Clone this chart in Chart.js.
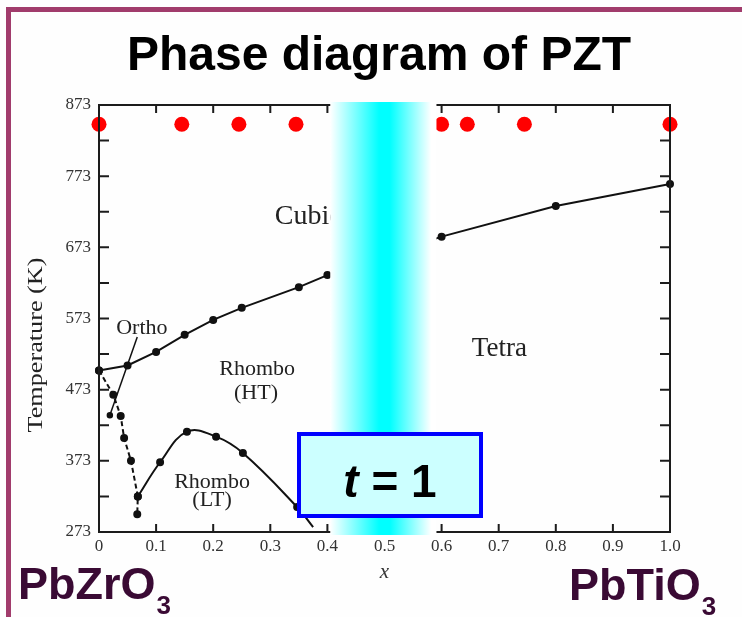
<!DOCTYPE html>
<html>
<head>
<meta charset="utf-8">
<title>Phase diagram of PZT</title>
<script src="https://cdn.jsdelivr.net/npm/chart.js@4/dist/chart.umd.min.js"></script>
<style>
  html, body { margin: 0; padding: 0; background: #fefefe; }
  canvas { display: block; }
</style>
</head>
<body>
<canvas id="pzt" width="742" height="617"></canvas>
<script>
const titleText = "Phase diagram of PZT";
const yTitle = "Temperature (K)";

// composition x (PbTiO3 fraction) and temperature T (K)
const upperX = [0, 0.05, 0.1, 0.15, 0.2, 0.25, 0.35, 0.4, 0.6, 0.8, 1.0];
const upperT = [500, 507, 526, 550, 571, 588, 617, 634, 688, 731, 762];

const orthoX = [0, 0.025, 0.038, 0.044, 0.056, 0.068, 0.067];
const orthoT = [500, 466, 436, 405, 373, 323, 298];

const lowX = [0.068, 0.107, 0.154, 0.205, 0.252, 0.347, 0.375];
const lowT = [323, 371, 414, 407, 384, 308, 280];

const leaderX = [0.067, 0.019];
const leaderT = [547, 437];

const redX = [0, 0.145, 0.245, 0.345, 0.6, 0.645, 0.745, 1.0];
const redT = [846, 846, 846, 846, 846, 846, 846, 846];

const xTicks = [0, 0.1, 0.2, 0.3, 0.4, 0.5, 0.6, 0.7, 0.8, 0.9, 1.0];
const xTickLabels = ["0", "0.1", "0.2", "0.3", "0.4", "0.5", "0.6", "0.7", "0.8", "0.9", "1.0"];
const yTicks = [273, 373, 473, 573, 673, 773, 873];
const yMinorTicks = [323, 373, 423, 473, 523, 573, 623, 673, 723, 773, 823];

const band = [0.405, 0.591];

const phaseLabels = [
  { text: "Cubic", x: 0.308, t: 706, size: 28, align: "left" },
  { text: "Tetra", x: 0.653, t: 521, size: 27, align: "left" },
  { text: "Ortho", x: 0.075, t: 551, size: 22, align: "center" },
  { text: "Rhombo", x: 0.277, t: 494, size: 22, align: "center" },
  { text: "(HT)", x: 0.275, t: 460, size: 22, align: "center" },
  { text: "Rhombo", x: 0.198, t: 335, size: 22, align: "center" },
  { text: "(LT)", x: 0.198, t: 310, size: 22, align: "center" }
];

const toPoints = (xs, ts) => xs.map((x, i) => ({ x: x, y: ts[i] }));

function drawFormula(ctx, main, sub, x, y) {
  ctx.font = 'bold 45px "Liberation Sans"';
  ctx.textAlign = "left";
  ctx.fillText(main, x, y);
  const w = ctx.measureText(main).width;
  ctx.font = 'bold 26px "Liberation Sans"';
  ctx.fillText(sub, x + w + 1, y + 15);
}

const slide = {
  id: "slide",
  beforeDraw(chart) {
    const ctx = chart.ctx;
    ctx.save();
    ctx.fillStyle = "#fefefe";
    ctx.fillRect(0, 0, chart.width, chart.height);
    ctx.fillStyle = "#a13c6c";
    ctx.fillRect(6, 7, chart.width - 6, 5);
    ctx.fillRect(6, 7, 5, chart.height - 7);

    ctx.fillStyle = "#000";
    ctx.font = 'bold 48px "Liberation Sans"';
    ctx.textAlign = "center";
    ctx.textBaseline = "alphabetic";
    ctx.fillText(titleText, 379, 70);

    ctx.fillStyle = "#3a0a34";
    drawFormula(ctx, "PbZrO", "3", 18, 599);
    drawFormula(ctx, "PbTiO", "3", 569, 600);

    // y axis title, stretched like the scanned figure
    ctx.fillStyle = "#222";
    ctx.font = '22px "Liberation Serif"';
    ctx.textAlign = "center";
    ctx.textBaseline = "middle";
    const tw = ctx.measureText(yTitle).width;
    ctx.translate(36, 345);
    ctx.rotate(-Math.PI / 2);
    ctx.scale(175 / tw, 1);
    ctx.fillText(yTitle, 0, 0);
    ctx.restore();
  },
  afterDatasetsDraw(chart) {
    const ctx = chart.ctx;
    const { left, right, top, bottom } = chart.chartArea;
    const xs = chart.scales.x, ys = chart.scales.y;
    ctx.save();

    // plot frame with inward ticks
    ctx.strokeStyle = "#1c1c1c";
    ctx.lineWidth = 2;
    ctx.strokeRect(left, top, right - left, bottom - top);
    ctx.beginPath();
    xTicks.forEach(v => {
      const px = xs.getPixelForValue(v);
      ctx.moveTo(px, bottom); ctx.lineTo(px, bottom - 8);
      ctx.moveTo(px, top); ctx.lineTo(px, top + 8);
    });
    yMinorTicks.forEach(v => {
      const py = ys.getPixelForValue(v);
      ctx.moveTo(left, py); ctx.lineTo(left + 10, py);
      ctx.moveTo(right, py); ctx.lineTo(right - 10, py);
    });
    ctx.stroke();

    // phase labels
    ctx.fillStyle = "#222";
    ctx.textBaseline = "alphabetic";
    phaseLabels.forEach(l => {
      ctx.font = l.size + 'px "Liberation Serif"';
      ctx.textAlign = l.align;
      ctx.fillText(l.text, xs.getPixelForValue(l.x), ys.getPixelForValue(l.t));
    });

    // cyan band at x = 0.5
    const bx0 = xs.getPixelForValue(band[0]);
    const bx1 = xs.getPixelForValue(band[1]);
    const grad = ctx.createLinearGradient(bx0, 0, bx1, 0);
    grad.addColorStop(0, "#ffffff");
    grad.addColorStop(0.46, "#00ffff");
    grad.addColorStop(0.56, "#00ffff");
    grad.addColorStop(0.95, "#ffffff");
    grad.addColorStop(1, "#ffffff");
    ctx.fillStyle = grad;
    ctx.fillRect(bx0, top - 3, bx1 - bx0, bottom - top + 6);

    // t = 1 box
    ctx.fillStyle = "#ccffff";
    ctx.fillRect(297, 432, 186, 86);
    ctx.strokeStyle = "#0000ff";
    ctx.lineWidth = 4;
    ctx.strokeRect(299, 434, 182, 82);

    ctx.fillStyle = "#000";
    ctx.textAlign = "left";
    ctx.font = 'italic bold 46px "Liberation Sans"';
    const wt = ctx.measureText("t").width;
    ctx.font = 'bold 46px "Liberation Sans"';
    const wr = ctx.measureText(" = 1").width;
    const sx = 390 - (wt + wr) / 2;
    ctx.font = 'italic bold 46px "Liberation Sans"';
    ctx.fillText("t", sx, 497);
    ctx.font = 'bold 46px "Liberation Sans"';
    ctx.fillText(" = 1", sx + wt, 497);
    ctx.restore();
  }
};

const lineStyle = {
  showLine: true,
  borderColor: "#111",
  backgroundColor: "#111",
  borderWidth: 2,
  pointRadius: 3,
  pointHoverRadius: 3,
  clip: false
};

new Chart(document.getElementById("pzt"), {
  type: "scatter",
  data: {
    datasets: [
      Object.assign({}, lineStyle, { label: "upper", data: toPoints(upperX, upperT) }),
      Object.assign({}, lineStyle, { label: "ortho", data: toPoints(orthoX, orthoT), borderDash: [5, 3] }),
      Object.assign({}, lineStyle, { label: "low", data: toPoints(lowX, lowT), tension: 0.4,
        pointRadius: lowX.map((v, i) => i === lowX.length - 1 ? 0 : 3) }),
      Object.assign({}, lineStyle, { label: "leader", data: toPoints(leaderX, leaderT), borderWidth: 1.5,
        pointRadius: [0, 2.5] }),
      { label: "samples", data: toPoints(redX, redT), showLine: false, pointRadius: 7.5,
        backgroundColor: "#ff0000", borderColor: "#ff0000", borderWidth: 0, clip: false }
    ]
  },
  options: {
    responsive: false,
    animation: false,
    devicePixelRatio: 1,
    layout: { padding: { left: 19, top: 105, right: 72, bottom: 32 } },
    plugins: { legend: { display: false }, tooltip: { enabled: false } },
    scales: {
      x: {
        type: "linear",
        min: 0,
        max: 1,
        afterBuildTicks: s => { s.ticks = xTicks.map(v => ({ value: v })); },
        afterFit: s => { s.height = 53; },
        grid: { display: false, drawTicks: false },
        border: { display: false },
        ticks: {
          padding: 4,
          color: "#333",
          font: { family: "Liberation Serif", size: 17 },
          maxRotation: 0,
          callback: (v, i) => xTickLabels[i]
        },
        title: {
          display: true,
          text: "x",
          color: "#333",
          padding: 0,
          font: { family: "Liberation Serif", size: 21, style: "italic" }
        }
      },
      y: {
        type: "linear",
        min: 273,
        max: 873,
        afterBuildTicks: s => { s.ticks = yTicks.map(v => ({ value: v })); },
        afterFit: s => { s.width = 80; },
        grid: { display: false, drawTicks: false },
        border: { display: false },
        ticks: {
          padding: 8,
          color: "#333",
          font: { family: "Liberation Serif", size: 17 },
          callback: v => String(v)
        },
        title: { display: false }
      }
    }
  },
  plugins: [slide]
});
</script>
</body>
</html>
